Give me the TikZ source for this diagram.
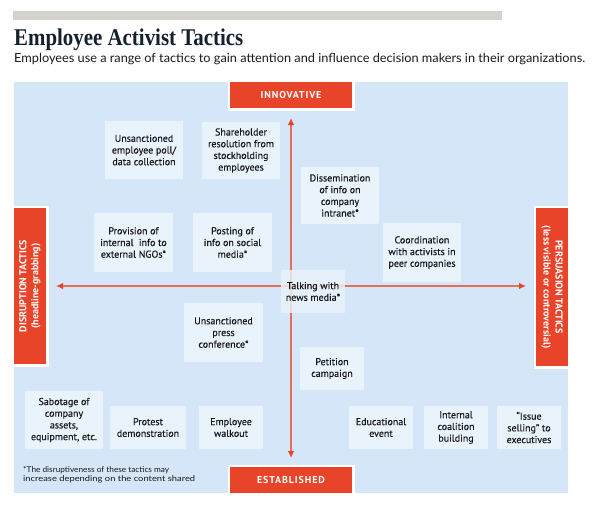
\documentclass[tikz,border=0pt]{standalone}
\usepackage{fontspec}
\usepackage{graphicx}
\usetikzlibrary{arrows.meta}
\newfontfamily\ptsans{PT Sans}
\newfontfamily\ptsansmed[FakeBold=0.35]{PT Sans}
\newfontfamily\ptsansspaced[LetterSpace=9]{PT Sans}
\newfontfamily\titlefont{Liberation Serif}
\newfontfamily\latofont{Lato}
\definecolor{panelblue}{HTML}{D4E6F7}
\definecolor{boxblue}{HTML}{E9F3FC}
\definecolor{hbrred}{HTML}{E8442A}
\definecolor{lineRed}{HTML}{E5705A}
\definecolor{barGray}{HTML}{D3D3CB}
\definecolor{inkdark}{HTML}{14202C}
\definecolor{boxtext}{HTML}{1A1A1A}
\begin{document}
\begin{tikzpicture}[x=1pt,y=-1pt,
  tbox/.style={fill=boxblue, align=center, inner sep=0pt, outer sep=0pt, text=boxtext,
    font=\ptsansmed\fontsize{10}{11.7}\selectfont},
  lbl/.style={fill=hbrred, draw=white, line width=2.5pt, outer sep=0pt, inner sep=0pt,
    text=white, font=\ptsans\bfseries\fontsize{10}{12}\selectfont},
  lblwide/.style={lbl, font=\ptsansspaced\bfseries\fontsize{10}{12}\selectfont},
  axisline/.style={draw=lineRed, line width=1.2pt,
    {Latex[length=7pt,width=6.5pt,color=hbrred]}-{Latex[length=7pt,width=6.5pt,color=hbrred]}}
]
\useasboundingbox (0,0) rectangle (592,507);
% header
\fill[barGray] (13,11) rectangle (502,20);
\node[anchor=base west, inner sep=0pt, text=inkdark] (title) at (14,45)
  {\resizebox{229pt}{\height}{\titlefont\bfseries\fontsize{24}{24}\selectfont Employee Activist Tactics}};
\node[anchor=base west, inner sep=0pt, text=boxtext] (subtitle) at (14,62)
  {\resizebox{571pt}{\height}{\latofont\fontsize{12.5}{14}\selectfont Employees use a range of tactics to gain attention and influence decision makers in their organizations.}};
% panel
\fill[panelblue] (14,82) rectangle (568,493);
% axis labels
\node[lblwide, minimum width=124.5pt, minimum height=28.5pt] (innov) at (291,95) {INNOVATIVE};
\node[lblwide, minimum width=124.5pt, minimum height=28.5pt] (estab) at (291,480) {ESTABLISHED};
\node[lbl, minimum width=34.5pt, minimum height=158.5pt] (disr) at (30,286)
  {\rotatebox{90}{\begin{tabular}{@{}c@{}}DISRUPTION TACTICS\\(headline-grabbing)\end{tabular}}};
\node[lbl, minimum width=34.5pt, minimum height=160.5pt] (pers) at (552,287)
  {\rotatebox{-90}{\begin{tabular}{@{}c@{}}PERSUASION TACTICS\\(less visible or controversial)\end{tabular}}};
% axes
\draw[axisline, shorten <=8.75pt, shorten >=7.75pt] (innov) -- (estab);
\coordinate (hend) at (disr.east -| pers.west);
\draw[axisline, shorten <=8.75pt, shorten >=8.75pt] (disr.east) -- (hend);
% tactic boxes
\node[tbox, minimum width=78pt, minimum height=58pt] (poll) at (144,150) {Unsanctioned\\employee poll/\\data collection};
\node[tbox, minimum width=78pt, minimum height=57pt] (share) at (241,150.5) {Shareholder\\resolution from\\stockholding\\employees};
\node[tbox, minimum width=79pt, minimum height=59pt] (ngo) at (133.5,242.5) {Provision of\\internal\ \ info to\\external NGOs*};
\node[tbox, minimum width=79pt, minimum height=59pt] (social) at (232.5,242.5) {Posting of\\info on social\\media*};
\node[tbox, minimum width=78pt, minimum height=57pt] (intranet) at (340,195.5) {Dissemination\\of info on\\company\\intranet*};
\node[tbox, minimum width=78pt, minimum height=59pt] (coord) at (422,252.5) {Coordination\\with activists in\\peer companies};
\node[tbox, fill opacity=0.82, text opacity=1, minimum width=64pt, minimum height=43pt] (news) at (313,291.5) {Talking with\\news media*};
\node[tbox, minimum width=79pt, minimum height=59pt] (press) at (223.5,332.5) {Unsanctioned\\press\\conference*};
\node[tbox, minimum width=64pt, minimum height=43pt] (petition) at (332,368.5) {Petition\\campaign};
\node[tbox, minimum width=78pt, minimum height=58pt] (sabotage) at (64,420) {Sabotage of\\company\\assets,\\equipment, etc.};
\node[tbox, minimum width=76pt, minimum height=43pt] (protest) at (148,427.5) {Protest\\demonstration};
\node[tbox, minimum width=64pt, minimum height=43pt] (walkout) at (231,427.5) {Employee\\walkout};
\node[tbox, minimum width=64pt, minimum height=43pt] (edu) at (381,427.5) {Educational\\event};
\node[tbox, minimum width=64pt, minimum height=43pt] (coalition) at (456,427.5) {Internal\\coalition\\building};
\node[tbox, minimum width=64pt, minimum height=43pt] (issue) at (529,427.5) {“Issue\\selling” to\\executives};
% footnote
\node[anchor=north west, inner sep=0pt, align=left, text=boxtext,
  font=\latofont\fontsize{8}{9}\selectfont] (note) at (23,466.5)
  {\resizebox{146pt}{\height}{*The disruptiveness of these tactics may}\\\resizebox{172pt}{\height}{increase depending on the content shared}};
\end{tikzpicture}
\end{document}
